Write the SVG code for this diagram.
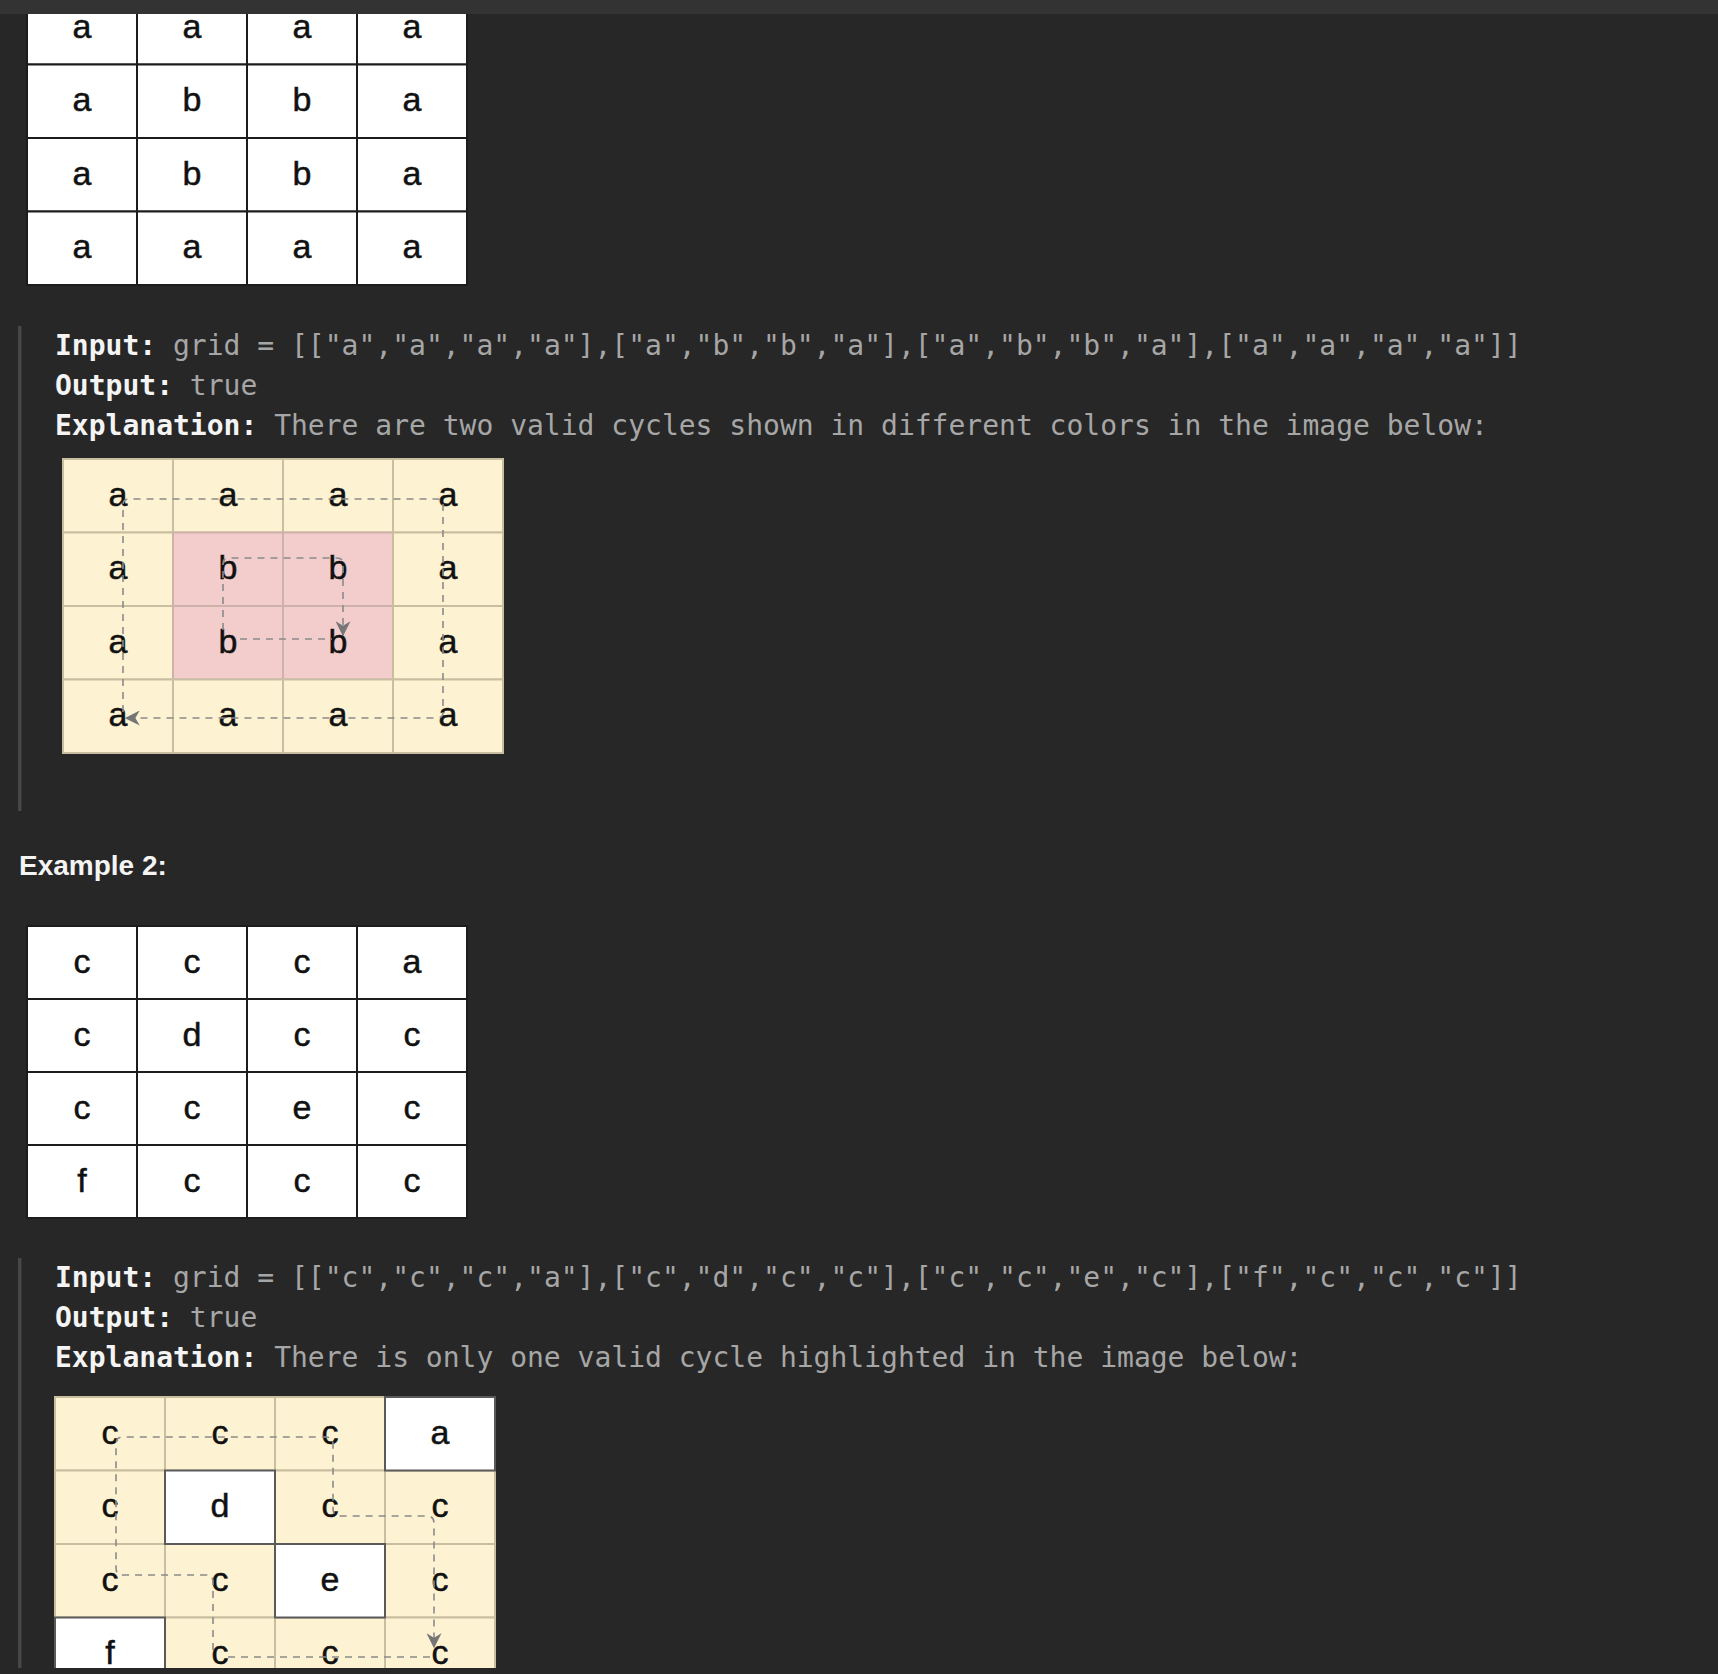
<svg xmlns="http://www.w3.org/2000/svg" width="1718" height="1674" viewBox="0 0 1718 1674">
<style>
.w{fill:#ffffff;stroke:#1c1c1c;stroke-width:2}
.y{fill:#fdf2d1;stroke:#c9bea0;stroke-width:2}
.p{fill:#f2cdcc;stroke:#cdb2ac;stroke-width:2}
.w4{fill:#ffffff;stroke:#5a5a5a;stroke-width:2}
.t{font-family:"Liberation Sans",Arial,Helvetica,sans-serif;font-size:34px;fill:#111;stroke:#111;stroke-width:0.5;text-anchor:middle}
.m{font-family:"DejaVu Sans Mono","Liberation Mono",monospace;font-size:28px;fill:#a6a6a6}
.b{font-weight:bold;fill:#f4f4f4}
.h{font-family:"Liberation Sans",Arial,Helvetica,sans-serif;font-size:28px;font-weight:bold;fill:#f4f4f4}
.bar{fill:#474747}
.c{fill:none;stroke:#8a8a8a;stroke-width:1.6;stroke-dasharray:7 6}
</style>
<defs>
<marker id="arr" viewBox="0 0 12 12" refX="11" refY="6" markerWidth="15" markerHeight="15" markerUnits="userSpaceOnUse" orient="auto">
<path d="M0,0 L12,6 L0,12 L3.5,6 Z" fill="#767676"/>
</marker>
</defs>
<rect x="0" y="0" width="1718" height="1674" fill="#272727"/>

<!-- Grid 1 -->
<g id="grid1">
<g id="g1-r0c0"><rect class="w" x="27" y="-9" width="110" height="73.5"/><text class="t" x="82" y="37.75">a</text></g>
<g id="g1-r0c1"><rect class="w" x="137" y="-9" width="110" height="73.5"/><text class="t" x="192" y="37.75">a</text></g>
<g id="g1-r0c2"><rect class="w" x="247" y="-9" width="110" height="73.5"/><text class="t" x="302" y="37.75">a</text></g>
<g id="g1-r0c3"><rect class="w" x="357" y="-9" width="110" height="73.5"/><text class="t" x="412" y="37.75">a</text></g>
<g id="g1-r1c0"><rect class="w" x="27" y="64.5" width="110" height="73.5"/><text class="t" x="82" y="111.25">a</text></g>
<g id="g1-r1c1"><rect class="w" x="137" y="64.5" width="110" height="73.5"/><text class="t" x="192" y="111.25">b</text></g>
<g id="g1-r1c2"><rect class="w" x="247" y="64.5" width="110" height="73.5"/><text class="t" x="302" y="111.25">b</text></g>
<g id="g1-r1c3"><rect class="w" x="357" y="64.5" width="110" height="73.5"/><text class="t" x="412" y="111.25">a</text></g>
<g id="g1-r2c0"><rect class="w" x="27" y="138" width="110" height="73.5"/><text class="t" x="82" y="184.75">a</text></g>
<g id="g1-r2c1"><rect class="w" x="137" y="138" width="110" height="73.5"/><text class="t" x="192" y="184.75">b</text></g>
<g id="g1-r2c2"><rect class="w" x="247" y="138" width="110" height="73.5"/><text class="t" x="302" y="184.75">b</text></g>
<g id="g1-r2c3"><rect class="w" x="357" y="138" width="110" height="73.5"/><text class="t" x="412" y="184.75">a</text></g>
<g id="g1-r3c0"><rect class="w" x="27" y="211.5" width="110" height="73.5"/><text class="t" x="82" y="258.25">a</text></g>
<g id="g1-r3c1"><rect class="w" x="137" y="211.5" width="110" height="73.5"/><text class="t" x="192" y="258.25">a</text></g>
<g id="g1-r3c2"><rect class="w" x="247" y="211.5" width="110" height="73.5"/><text class="t" x="302" y="258.25">a</text></g>
<g id="g1-r3c3"><rect class="w" x="357" y="211.5" width="110" height="73.5"/><text class="t" x="412" y="258.25">a</text></g>
</g>

<!-- top bar -->
<rect x="0" y="0" width="1718" height="14" fill="#333333"/>

<!-- Example 1 text -->
<rect class="bar" x="18" y="326" width="3.5" height="485"/>
<text class="m" x="55" y="355"><tspan class="b">Input:</tspan> grid = [["a","a","a","a"],["a","b","b","a"],["a","b","b","a"],["a","a","a","a"]]</text>
<text class="m" x="55" y="395"><tspan class="b">Output:</tspan> true</text>
<text class="m" x="55" y="435"><tspan class="b">Explanation:</tspan> There are two valid cycles shown in different colors in the image below:</text>

<!-- Grid 2 -->
<g id="grid2">
<g id="g2-r0c0"><rect class="y" x="63" y="459" width="110" height="73.5"/><text class="t" x="118" y="505.75">a</text></g>
<g id="g2-r0c1"><rect class="y" x="173" y="459" width="110" height="73.5"/><text class="t" x="228" y="505.75">a</text></g>
<g id="g2-r0c2"><rect class="y" x="283" y="459" width="110" height="73.5"/><text class="t" x="338" y="505.75">a</text></g>
<g id="g2-r0c3"><rect class="y" x="393" y="459" width="110" height="73.5"/><text class="t" x="448" y="505.75">a</text></g>
<g id="g2-r1c0"><rect class="y" x="63" y="532.5" width="110" height="73.5"/><text class="t" x="118" y="579.25">a</text></g>
<g id="g2-r1c1"><rect class="p" x="173" y="532.5" width="110" height="73.5"/><text class="t" x="228" y="579.25">b</text></g>
<g id="g2-r1c2"><rect class="p" x="283" y="532.5" width="110" height="73.5"/><text class="t" x="338" y="579.25">b</text></g>
<g id="g2-r1c3"><rect class="y" x="393" y="532.5" width="110" height="73.5"/><text class="t" x="448" y="579.25">a</text></g>
<g id="g2-r2c0"><rect class="y" x="63" y="606" width="110" height="73.5"/><text class="t" x="118" y="652.75">a</text></g>
<g id="g2-r2c1"><rect class="p" x="173" y="606" width="110" height="73.5"/><text class="t" x="228" y="652.75">b</text></g>
<g id="g2-r2c2"><rect class="p" x="283" y="606" width="110" height="73.5"/><text class="t" x="338" y="652.75">b</text></g>
<g id="g2-r2c3"><rect class="y" x="393" y="606" width="110" height="73.5"/><text class="t" x="448" y="652.75">a</text></g>
<g id="g2-r3c0"><rect class="y" x="63" y="679.5" width="110" height="73.5"/><text class="t" x="118" y="726.25">a</text></g>
<g id="g2-r3c1"><rect class="y" x="173" y="679.5" width="110" height="73.5"/><text class="t" x="228" y="726.25">a</text></g>
<g id="g2-r3c2"><rect class="y" x="283" y="679.5" width="110" height="73.5"/><text class="t" x="338" y="726.25">a</text></g>
<g id="g2-r3c3"><rect class="y" x="393" y="679.5" width="110" height="73.5"/><text class="t" x="448" y="726.25">a</text></g>
</g>

<!-- Example 2 heading -->
<text class="h" x="19" y="875">Example 2:</text>

<!-- Grid 3 -->
<g id="grid3">
<g id="g3-r0c0"><rect class="w" x="27" y="926" width="110" height="73"/><text class="t" x="82" y="972.5">c</text></g>
<g id="g3-r0c1"><rect class="w" x="137" y="926" width="110" height="73"/><text class="t" x="192" y="972.5">c</text></g>
<g id="g3-r0c2"><rect class="w" x="247" y="926" width="110" height="73"/><text class="t" x="302" y="972.5">c</text></g>
<g id="g3-r0c3"><rect class="w" x="357" y="926" width="110" height="73"/><text class="t" x="412" y="972.5">a</text></g>
<g id="g3-r1c0"><rect class="w" x="27" y="999" width="110" height="73"/><text class="t" x="82" y="1045.5">c</text></g>
<g id="g3-r1c1"><rect class="w" x="137" y="999" width="110" height="73"/><text class="t" x="192" y="1045.5">d</text></g>
<g id="g3-r1c2"><rect class="w" x="247" y="999" width="110" height="73"/><text class="t" x="302" y="1045.5">c</text></g>
<g id="g3-r1c3"><rect class="w" x="357" y="999" width="110" height="73"/><text class="t" x="412" y="1045.5">c</text></g>
<g id="g3-r2c0"><rect class="w" x="27" y="1072" width="110" height="73"/><text class="t" x="82" y="1118.5">c</text></g>
<g id="g3-r2c1"><rect class="w" x="137" y="1072" width="110" height="73"/><text class="t" x="192" y="1118.5">c</text></g>
<g id="g3-r2c2"><rect class="w" x="247" y="1072" width="110" height="73"/><text class="t" x="302" y="1118.5">e</text></g>
<g id="g3-r2c3"><rect class="w" x="357" y="1072" width="110" height="73"/><text class="t" x="412" y="1118.5">c</text></g>
<g id="g3-r3c0"><rect class="w" x="27" y="1145" width="110" height="73"/><text class="t" x="82" y="1191.5">f</text></g>
<g id="g3-r3c1"><rect class="w" x="137" y="1145" width="110" height="73"/><text class="t" x="192" y="1191.5">c</text></g>
<g id="g3-r3c2"><rect class="w" x="247" y="1145" width="110" height="73"/><text class="t" x="302" y="1191.5">c</text></g>
<g id="g3-r3c3"><rect class="w" x="357" y="1145" width="110" height="73"/><text class="t" x="412" y="1191.5">c</text></g>
</g>

<!-- Example 2 text -->
<rect class="bar" x="18" y="1258" width="3.5" height="416"/>
<text class="m" x="55" y="1287"><tspan class="b">Input:</tspan> grid = [["c","c","c","a"],["c","d","c","c"],["c","c","e","c"],["f","c","c","c"]]</text>
<text class="m" x="55" y="1327"><tspan class="b">Output:</tspan> true</text>
<text class="m" x="55" y="1367"><tspan class="b">Explanation:</tspan> There is only one valid cycle highlighted in the image below:</text>

<!-- Grid 4 -->
<g id="grid4">
<g id="g4-r0c0"><rect class="y" x="55" y="1397" width="110" height="73.5"/><text class="t" x="110" y="1443.75">c</text></g>
<g id="g4-r0c1"><rect class="y" x="165" y="1397" width="110" height="73.5"/><text class="t" x="220" y="1443.75">c</text></g>
<g id="g4-r0c2"><rect class="y" x="275" y="1397" width="110" height="73.5"/><text class="t" x="330" y="1443.75">c</text></g>
<g id="g4-r1c0"><rect class="y" x="55" y="1470.5" width="110" height="73.5"/><text class="t" x="110" y="1517.25">c</text></g>
<g id="g4-r1c2"><rect class="y" x="275" y="1470.5" width="110" height="73.5"/><text class="t" x="330" y="1517.25">c</text></g>
<g id="g4-r1c3"><rect class="y" x="385" y="1470.5" width="110" height="73.5"/><text class="t" x="440" y="1517.25">c</text></g>
<g id="g4-r2c0"><rect class="y" x="55" y="1544" width="110" height="73.5"/><text class="t" x="110" y="1590.75">c</text></g>
<g id="g4-r2c1"><rect class="y" x="165" y="1544" width="110" height="73.5"/><text class="t" x="220" y="1590.75">c</text></g>
<g id="g4-r2c3"><rect class="y" x="385" y="1544" width="110" height="73.5"/><text class="t" x="440" y="1590.75">c</text></g>
<g id="g4-r3c1"><rect class="y" x="165" y="1617.5" width="110" height="73.5"/><text class="t" x="220" y="1664.25">c</text></g>
<g id="g4-r3c2"><rect class="y" x="275" y="1617.5" width="110" height="73.5"/><text class="t" x="330" y="1664.25">c</text></g>
<g id="g4-r3c3"><rect class="y" x="385" y="1617.5" width="110" height="73.5"/><text class="t" x="440" y="1664.25">c</text></g>
<g id="g4-r0c3"><rect class="w4" x="385" y="1397" width="110" height="73.5"/><text class="t" x="440" y="1443.75">a</text></g>
<g id="g4-r1c1"><rect class="w4" x="165" y="1470.5" width="110" height="73.5"/><text class="t" x="220" y="1517.25">d</text></g>
<g id="g4-r2c2"><rect class="w4" x="275" y="1544" width="110" height="73.5"/><text class="t" x="330" y="1590.75">e</text></g>
<g id="g4-r3c0"><rect class="w4" x="55" y="1617.5" width="110" height="73.5"/><text class="t" x="110" y="1664.25">f</text></g>
</g>

<!-- Connectors -->
<g id="connectors">
<path class="c" d="M123,712 V505 Q123,499 129,499 H437 Q443,499 443,505 V712 Q443,718 437,718 H126" marker-end="url(#arr)"/>
<path class="c" d="M223,630 V564 Q223,558 229,558 H337 Q343,558 343,564 V635" marker-end="url(#arr)"/>
<path class="c" d="M240,639 H332"/>
<path class="c" d="M213,1650 V1582 Q213,1575 206,1575 H123 Q116,1575 116,1568 V1444 Q116,1437 123,1437 H326 Q333,1437 333,1444 V1509 Q333,1516 340,1516 H427 Q434,1516 434,1523 V1647" marker-end="url(#arr)"/>
<path class="c" d="M430,1657 H225"/>
</g>

<!-- bottom cut strip -->
<rect x="0" y="1668" width="1718" height="6" fill="#272727"/>
</svg>
